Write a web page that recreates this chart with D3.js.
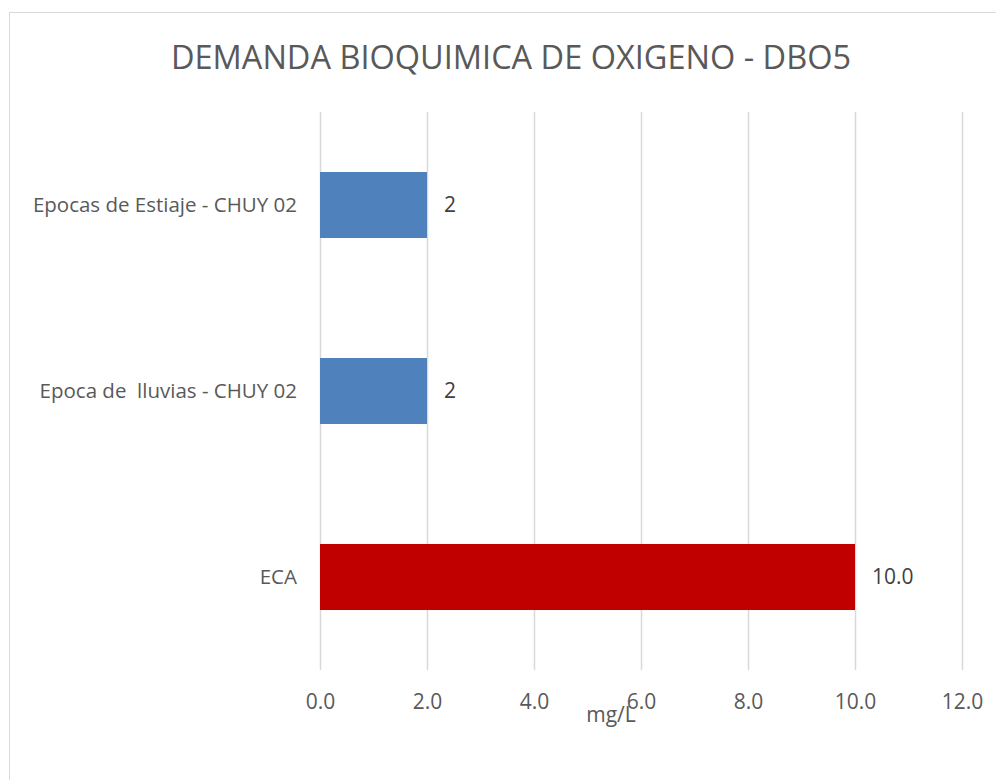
<!DOCTYPE html>
<html>
<head>
<meta charset="utf-8">
<script src="https://cdn.jsdelivr.net/npm/d3@7"></script>
<style>
  body { margin: 0; background: #fff; }
  svg { display: block; font-family: "Open Sans", sans-serif; }
</style>
</head>
<body>
<svg></svg>
<script>
const WIDTH = 996;
const HEIGHT = 780;

// datos del grafico
var categories = ['Epocas de Estiaje - CHUY 02', 'Epoca de  lluvias - CHUY 02', 'ECA'];
var values = [2, 2, 10];
var valueLabels = ['2', '2', '10.0'];
var barColors = ['#4F81BD', '#4F81BD', '#C00000'];
var xTicks = [0, 2, 4, 6, 8, 10, 12];

var margin = {top: 112, left: 320, right: 34, bottom: 110};

var svg = d3.select('svg')
    .attr('width', WIDTH)
    .attr('height', HEIGHT);

// marco del grafico
svg.append('rect')
    .attr('x', 9.5)
    .attr('y', 12.5)
    .attr('width', WIDTH + 20)
    .attr('height', HEIGHT + 20)
    .attr('fill', 'none')
    .attr('stroke', '#d9d9d9')
    .attr('stroke-width', 1);

svg.append('text')
    .attr('x', 511)
    .attr('y', 69)
    .attr('text-anchor', 'middle')
    .attr('fill', '#595959')
    .style('font-size', '32.5px')
    .text('DEMANDA BIOQUIMICA DE OXIGENO - DBO5');

var xScale = d3.scaleLinear()
    .domain([0, 12])
    .range([margin.left, 962]);

var yScale = d3.scaleBand()
    .domain(categories)
    .range([margin.top, 670])
    .paddingInner(0.645)
    .paddingOuter(0.3225);

// lineas de cuadricula
svg.append('g').selectAll('line')
    .data(xTicks)
    .enter()
    .append('line')
    .attr('x1', d => xScale(d) + 0.5)
    .attr('x2', d => xScale(d) + 0.5)
    .attr('y1', margin.top)
    .attr('y2', 670)
    .attr('stroke', '#d9d9d9')
    .attr('stroke-width', 1.5);

var xAxis = d3.axisBottom(xScale)
    .tickValues(xTicks)
    .tickFormat(d3.format('.1f'))
    .tickSize(0)
    .tickPadding(0);

var gx = svg.append('g')
    .attr('transform', 'translate(0,' + 709 + ')')
    .call(xAxis);
gx.select('.domain').remove();
gx.selectAll('text')
    .attr('dy', 0)
    .attr('y', 0)
    .attr('fill', '#595959')
    .style('font-size', '21px')
    .style('font-family', '"Open Sans", sans-serif');

var yAxis = d3.axisLeft(yScale).tickSize(0).tickPadding(23);
var gy = svg.append('g')
    .attr('transform', 'translate(' + margin.left + ',0)')
    .call(yAxis);
gy.select('.domain').remove();
gy.selectAll('text')
    .attr('fill', '#595959')
    .attr('dy', '0.35em')
    .style('white-space', 'pre')
    .style('font-size', '20.5px')
    .style('font-family', '"Open Sans", sans-serif');

// barras
svg.append('g').selectAll('rect')
    .data(values)
    .enter()
    .append('rect')
    .attr('x', xScale(0))
    .attr('y', (d, i) => yScale(categories[i]))
    .attr('width', d => xScale(d) - xScale(0))
    .attr('height', yScale.bandwidth())
    .attr('fill', (d, i) => barColors[i]);

// etiquetas de valores
svg.append('g').selectAll('text')
    .data(values)
    .enter()
    .append('text')
    .attr('x', d => xScale(d) + 17)
    .attr('y', (d, i) => yScale(categories[i]) + yScale.bandwidth() / 2)
    .attr('dy', '0.35em')
    .attr('fill', '#404040')
    .style('font-size', '21px')
    .text((d, i) => valueLabels[i]);

// titulo del eje
svg.append('text')
    .attr('x', 611)
    .attr('y', 722)
    .attr('text-anchor', 'middle')
    .attr('fill', '#595959')
    .style('font-size', '21px')
    .text('mg/L');
</script>
</body>
</html>
